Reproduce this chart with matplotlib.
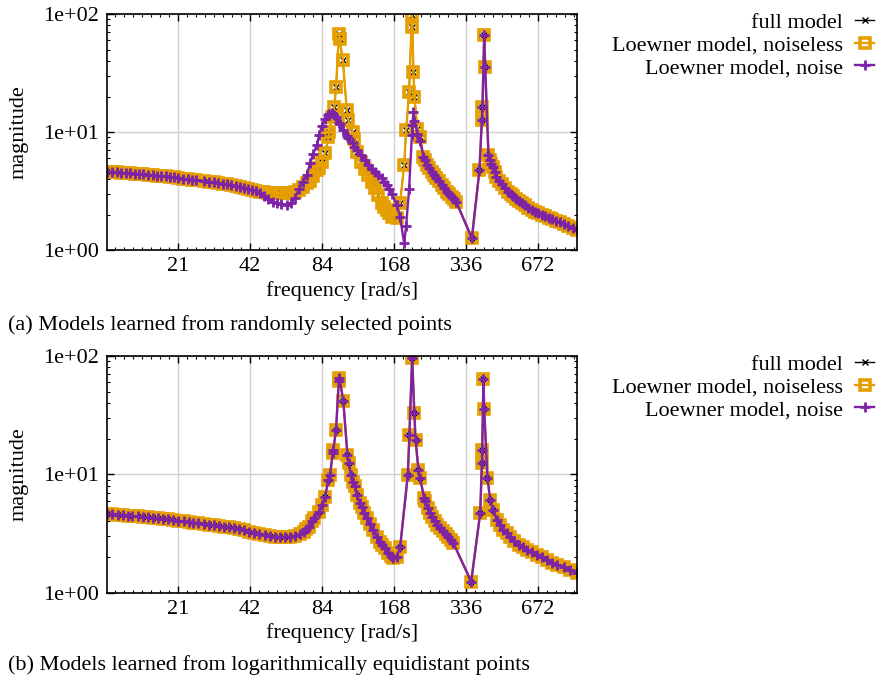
import numpy as np
import matplotlib
matplotlib.use('Agg')
import matplotlib.pyplot as plt
from matplotlib.ticker import FixedLocator, FuncFormatter, LogLocator, NullFormatter

plt.rcParams['font.family'] = ['Liberation Serif', 'DejaVu Serif']
plt.rcParams['font.size'] = 16

# (a) randomly selected points
freq_a = [10.6, 11.1, 11.6, 12.1, 12.7, 13.2, 13.8, 14.4, 15.0, 15.7, 16.4, 17.1, 17.8, 18.6,
          19.4, 20.2, 21.0, 22.0, 23.0, 24.0, 25.0, 27.0, 28.2, 29.5, 30.8, 32.2, 33.6, 35.0,
          36.5, 38.0, 39.6, 41.2, 42.8, 44.5, 46.3, 48.0, 50.0, 52.4, 54.4, 56.5, 59.7, 62.2,
          64.7, 67.3, 69.9, 72.4, 74.8, 76.9, 80.0, 81.5, 83.7, 86.4, 89.2, 90.0, 92.4, 94.5,
          96.0, 98.7, 99.3, 102.5, 106.5, 108.1, 112.8, 114.6, 117.3, 121.9, 126.4, 131.1,
          135.5, 139.9, 144.4, 149.2, 152.6, 156.6, 160.1, 164.3, 172.4, 178.0, 185.0, 188.6,
          194.1, 199.3, 200.4, 202.3, 204.3, 210.3, 215.9, 222.9, 226.0, 231.0, 236.0, 241.6,
          246.0, 251.8, 258.0, 266.0, 272.0, 279.2, 286.0, 293.0, 299.0, 305.4, 355.4, 382.3,
          391.4, 393.6, 400.1, 404.0, 417.0, 423.8, 429.0, 435.0, 442.0, 449.2, 462.0, 475.9,
          490.0, 505.7, 517.0, 529.0, 543.0, 557.0, 575.0, 594.0, 613.0, 633.6, 652.0, 672.0,
          696.0, 720.0, 745.0, 770.0, 800.0, 832.0, 865.0, 899.0, 937.0, 977.8]
full_a = [4.60, 4.57, 4.55, 4.52, 4.49, 4.47, 4.43, 4.40, 4.37, 4.34, 4.31, 4.27, 4.24, 4.20,
          4.16, 4.12, 4.06, 4.01, 3.97, 3.93, 3.89, 3.82, 3.78, 3.74, 3.70, 3.65, 3.60, 3.55,
          3.49, 3.43, 3.37, 3.30, 3.24, 3.18, 3.13, 3.08, 3.05, 3.03, 3.02, 3.02, 3.03, 3.04,
          3.08, 3.25, 3.42, 3.70, 3.85, 4.20, 4.76, 4.95, 5.60, 6.60, 9.10, 10.1, 13.5, 16.4,
          23.9, 68.0, 61.0, 40.8, 15.3, 12.6, 10.1, 8.8, 6.8, 5.6, 4.9, 4.32,
          3.80, 3.33, 2.92, 2.49, 2.30, 2.18, 2.05, 1.91, 1.86, 2.49, 5.25, 10.4,
          21.9, 98.0, 78.0, 32.3, 19.7, 10.7, 9.1, 6.2, 5.8, 5.3, 4.95, 4.6,
          4.35, 4.1, 3.85, 3.55, 3.35, 3.12, 2.97, 2.83, 2.70, 2.57, 1.26, 4.76,
          12.6, 16.4, 66.0, 35.3, 6.38, 5.8, 5.4, 5.08, 4.6, 4.18, 3.85, 3.6,
          3.35, 3.12, 2.98, 2.85, 2.72, 2.62, 2.5, 2.4, 2.28, 2.18, 2.12, 2.07,
          2.0, 1.94, 1.88, 1.83, 1.77, 1.72, 1.66, 1.60, 1.54, 1.48]
# noiseless Loewner model sits on top of the full model
noiseless_a = list(full_a)
noise_a = [4.60, 4.57, 4.55, 4.52, 4.49, 4.47, 4.43, 4.40, 4.37, 4.34, 4.31, 4.27, 4.24, 4.20,
           4.16, 4.12, 4.06, 4.01, 3.97, 3.93, 3.89, 3.82, 3.78, 3.74, 3.70, 3.65, 3.60, 3.55,
           3.49, 3.43, 3.37, 3.30, 3.22, 3.14, 3.04, 2.88, 2.70, 2.56, 2.48, 2.44, 2.41, 2.50,
           2.76, 3.30, 3.80, 4.30, 5.46, 6.50, 7.80, 9.4, 11.2, 13.0, 14.0, 14.3, 14.6, 14.0,
           13.3, 12.0, 11.7, 10.5, 9.3, 8.9, 8.0, 7.5, 7.0, 6.4, 5.8, 5.3,
           4.9, 4.6, 4.3, 4.05, 3.8, 3.55, 3.3, 3.0, 2.4, 1.9, 1.14, 1.6,
           3.3, 9.5, 11.5, 14.8, 12.5, 9.6, 8.4, 6.2, 5.8, 5.3, 4.95, 4.6,
           4.35, 4.1, 3.85, 3.55, 3.35, 3.12, 2.97, 2.83, 2.70, 2.57, 1.26, 4.76,
           12.6, 16.4, 66.0, 35.3, 6.38, 5.8, 5.4, 5.08, 4.6, 4.18, 3.85, 3.6,
           3.35, 3.12, 2.98, 2.85, 2.72, 2.62, 2.5, 2.4, 2.28, 2.18, 2.12, 2.07,
           2.0, 1.94, 1.88, 1.83, 1.77, 1.72, 1.66, 1.60, 1.54, 1.48]

# (b) logarithmically equidistant points
freq_b = [10.6, 11.1, 11.7, 12.3, 12.9, 13.5, 14.2, 14.9, 15.7, 16.5, 17.3, 18.2, 19.1, 20.0,
          21.0, 22.1, 23.2, 24.3, 25.5, 26.8, 28.2, 29.6, 31.1, 32.6, 34.3, 36.0, 37.8, 39.7,
          41.7, 43.7, 45.9, 48.2, 50.6, 53.2, 55.8, 58.6, 61.5, 64.6, 67.9, 70.3, 71.9, 74.0,
          76.5, 78.0, 81.8, 84.0, 86.4, 89.2, 90.6, 93.0, 93.6, 96.0, 98.6, 99.2, 103.0, 107.1,
          108.6, 110.7, 112.8, 115.4, 117.3, 121.0, 123.1, 126.0, 129.1, 133.0, 137.6, 142.2,
          146.8, 150.0, 154.0, 159.0, 163.0, 166.8, 172.4, 178.0, 191.7, 194.7, 199.9, 204.1,
          206.5, 212.4, 215.9, 224.3, 226.5, 232.0, 237.0, 241.6, 249.5, 255.0, 261.8, 270.3,
          277.0, 283.5, 290.0, 297.6, 353.0, 385.0, 391.4, 392.4, 397.4, 400.1, 413.0, 423.8,
          437.6, 452.0, 466.0, 481.8, 497.0, 514.0, 535.0, 557.0, 580.0, 604.0, 634.0, 665.0,
          698.0, 732.0, 768.0, 806.0, 860.0, 917.0, 977.8]
full_b = [4.62, 4.59, 4.55, 4.52, 4.48, 4.45, 4.41, 4.37, 4.33, 4.29, 4.25, 4.21, 4.16, 4.11,
          4.03, 4.0, 3.95, 3.91, 3.87, 3.82, 3.77, 3.72, 3.67, 3.62, 3.56, 3.50, 3.44, 3.37,
          3.28, 3.21, 3.14, 3.07, 3.02, 2.98, 2.96, 2.96, 2.98, 3.04, 3.14, 3.29, 3.45, 3.62,
          4.0, 4.26, 4.85, 5.5, 6.5, 9.0, 9.9, 15.2, 16.2, 23.9, 61.5, 65.5, 41.5, 14.7,
          12.5, 9.9, 8.7, 7.9, 6.7, 5.7, 5.35, 4.75, 4.26, 3.8, 3.4, 2.98,
          2.7, 2.55, 2.38, 2.16, 2.05, 1.96, 2.02, 2.42, 9.9, 21.7, 97.0, 33.0,
          19.6, 10.9, 9.3, 6.3, 6.0, 5.2, 4.75, 4.4, 4.0, 3.75, 3.5, 3.3,
          3.13, 2.98, 2.8, 2.62, 1.24, 4.7, 12.5, 16.2, 64.4, 35.4, 9.3, 6.1,
          5.0, 4.13, 3.75, 3.4, 3.18, 2.98, 2.75, 2.54, 2.42, 2.3, 2.2, 2.09,
          1.99, 1.89, 1.8, 1.72, 1.64, 1.56, 1.47]
noiseless_b = list(full_b)
noise_b = list(full_b)

xticks = [21, 42, 84, 168, 336, 672]
yticks = [1, 10, 100]

c_full = 'black'
c_clean = '#e69f00'
c_noise = '#7e22a6'

fig = plt.figure(figsize=(8.81, 6.85), dpi=100)
ax_a = fig.add_axes([0.1215, 0.635, 0.5335, 0.3445])
ax_b = fig.add_axes([0.1215, 0.1347, 0.5335, 0.3456])


def draw(ax, f, full, clean, noisy, legend_top):
    l1, = ax.plot(f, full, color=c_full, lw=1.0, marker='x', ms=4, mew=1.0, label='full model')
    l2, = ax.plot(f, clean, color=c_clean, lw=1.7, marker='s', ms=7.2, mew=2.6, mfc='none',
                  label='Loewner model, noiseless')
    l3, = ax.plot(f, noisy, color=c_noise, lw=1.7, marker='+', ms=7.5, mew=2.0,
                  label='Loewner model, noise')
    ax.set_xscale('log')
    ax.set_yscale('log')
    ax.set_xlim(10.57, 979)
    ax.set_ylim(1, 100)
    ax.xaxis.set_major_locator(FixedLocator(xticks))
    ax.xaxis.set_major_formatter(FuncFormatter(lambda v, p: '%d' % round(v)))
    minors = [21 * 2 ** (k + j / 8) for k in range(-1, 6) for j in range(1, 8)]
    ax.xaxis.set_minor_locator(FixedLocator(minors))
    ax.xaxis.set_minor_formatter(NullFormatter())
    ax.yaxis.set_major_locator(FixedLocator(yticks))
    ax.yaxis.set_major_formatter(FuncFormatter(lambda v, p: '1e+%02d' % round(np.log10(v))))
    ax.yaxis.set_minor_locator(LogLocator(base=10, subs=np.arange(2, 10)))
    ax.yaxis.set_minor_formatter(NullFormatter())
    ax.tick_params(which='both', direction='in', top=True, right=True)
    ax.tick_params(which='major', length=5, width=1.0)
    ax.tick_params(which='minor', length=2.5, width=0.8)
    ax.tick_params(axis='x', which='major', pad=5)
    ax.tick_params(axis='y', which='major', pad=6)
    ax.grid(True, which='major', color='#d0d0d0', lw=1.0)
    ax.set_axisbelow(True)
    for s in ax.spines.values():
        s.set_linewidth(1.2)
    ax.set_xlabel('frequency [rad/s]')
    ax.xaxis.set_label_coords(0.5, -0.13)
    ax.set_ylabel('magnitude')
    ax.yaxis.set_label_coords(-0.168, 0.5)
    ax.legend(handles=[l1, l2, l3], loc='upper right', bbox_to_anchor=(0.992, legend_top),
              bbox_transform=fig.transFigure, frameon=False, markerfirst=False,
              borderpad=0, borderaxespad=0, handlelength=0.85, handletextpad=0.55,
              labelspacing=0.1)


draw(ax_a, freq_a, full_a, noiseless_a, noise_a, 1 - 12 / 685)
draw(ax_b, freq_b, full_b, noiseless_b, noise_b, 1 - 354 / 685)

fig.text(8 / 881, 1 - 325 / 685, '(a) Models learned from randomly selected points', va='center')
fig.text(8 / 881, 1 - 665 / 685, '(b) Models learned from logarithmically equidistant points',
         va='center')

fig.savefig('out.png', dpi=100)
